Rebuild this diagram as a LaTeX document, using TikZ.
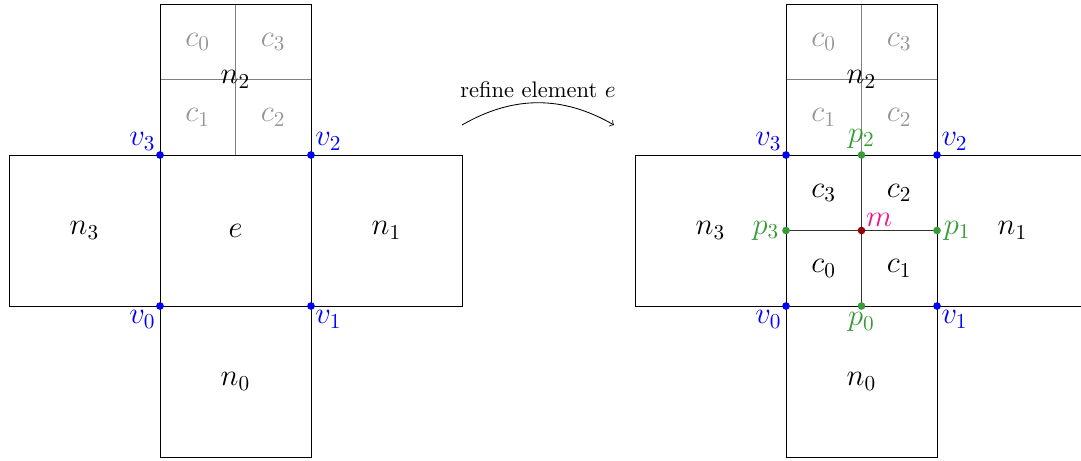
\documentclass[tikz,border=0pt]{standalone}
\usepackage{xcolor}
\definecolor{vblue}{RGB}{0,0,255}
\definecolor{pgreen}{RGB}{55,155,55}
\definecolor{mred}{RGB}{150,0,0}
\definecolor{mpink}{RGB}{240,20,140}
\definecolor{cgray}{RGB}{150,150,150}
\begin{document}
\begin{tikzpicture}[x=0.471pt,y=-0.471pt,
  cell/.style={draw=black,line width=0.4pt},
  sub/.style={draw=black!80,line width=0.4pt},
  ghost/.style={draw=black!50,line width=0.4pt},
  lab/.style={font=\Large,inner sep=1pt},
  glab/.style={font=\Large,text=cgray,inner sep=1pt},
  vdot/.style={circle,fill=vblue,inner sep=0pt,minimum size=3.6pt},
  pdot/.style={circle,fill=pgreen,inner sep=0pt,minimum size=3.6pt},
  mdot/.style={circle,fill=mred,inner sep=0pt,minimum size=3.6pt},
  vlab/.style={font=\Large,text=vblue,inner sep=0.5pt},
  plab/.style={font=\Large,text=pgreen,inner sep=1pt}]
\path[use as bounding box,clip] (0,0) rectangle (1081,460);
% ---------- left figure ----------
\begin{scope}[shift={(160,155)}]
  \draw[ghost] (75.5,-151) -- (75.5,0) (0,-75.5) -- (151,-75.5);
  \draw[cell] (0,-151) rectangle (151,0);
  \draw[cell] (-151,0) rectangle (0,151);
  \draw[cell] (0,0) rectangle (151,151);
  \draw[cell] (151,0) rectangle (302,151);
  \draw[cell] (0,151) rectangle (151,302);
  \node[glab] (Lc0) at (37.75,-113.25) {$c_0$};
  \node[glab] (Lc3) at (113.25,-113.25) {$c_3$};
  \node[glab] (Lc1) at (37.75,-37.75) {$c_1$};
  \node[glab] (Lc2) at (113.25,-37.75) {$c_2$};
  \node[lab] (Ln2) at (75.5,-75.5) {$n_2$};
  \node[lab] (Ln3) at (-75.5,75.5) {$n_3$};
  \node[lab] (Le) at (75.5,75.5) {$e$};
  \node[lab] (Ln1) at (226.5,75.5) {$n_1$};
  \node[lab] (Ln0) at (75.5,226.5) {$n_0$};
  \node[vdot] (Lv3) at (0,0) {};
  \node[vdot] (Lv2) at (151,0) {};
  \node[vdot] (Lv0) at (0,151) {};
  \node[vdot] (Lv1) at (151,151) {};
  \node[vlab,anchor=south east] at (Lv3.north west) {$v_3$};
  \node[vlab,anchor=south west] at (Lv2.north east) {$v_2$};
  \node[vlab,anchor=north east] at (Lv0.south west) {$v_0$};
  \node[vlab,anchor=north west] at (Lv1.south east) {$v_1$};
\end{scope}
% ---------- arrow ----------
\coordinate (A0) at (462,125);
\coordinate (A1) at (614,125);
\draw[->,line width=0.4pt] (A0) to[bend left=30] node[above=-1pt,font=\fontsize{10.6}{12}\selectfont] {refine element $e$} (A1);
% ---------- right figure ----------
\begin{scope}[shift={(786,155)}]
  \draw[ghost] (75.5,-151) -- (75.5,0) (0,-75.5) -- (151,-75.5);
  \draw[cell] (0,-151) rectangle (151,0);
  \draw[cell] (-151,0) rectangle (0,151);
  \draw[cell] (0,0) rectangle (151,151);
  \draw[cell] (151,0) rectangle (302,151);
  \draw[cell] (0,151) rectangle (151,302);
  \draw[sub] (75.5,0) -- (75.5,151) (0,75.5) -- (151,75.5);
  \node[glab] (Rg0) at (37.75,-113.25) {$c_0$};
  \node[glab] (Rg3) at (113.25,-113.25) {$c_3$};
  \node[glab] (Rg1) at (37.75,-37.75) {$c_1$};
  \node[glab] (Rg2) at (113.25,-37.75) {$c_2$};
  \node[lab] (Rn2) at (75.5,-75.5) {$n_2$};
  \node[lab] (Rn3) at (-75.5,75.5) {$n_3$};
  \node[lab] (Rn1) at (226.5,75.5) {$n_1$};
  \node[lab] (Rn0) at (75.5,226.5) {$n_0$};
  \node[lab] (Rc3) at (37.75,37.75) {$c_3$};
  \node[lab] (Rc2) at (113.25,37.75) {$c_2$};
  \node[lab] (Rc0) at (37.75,113.25) {$c_0$};
  \node[lab] (Rc1) at (113.25,113.25) {$c_1$};
  \node[vdot] (Rv3) at (0,0) {};
  \node[vdot] (Rv2) at (151,0) {};
  \node[vdot] (Rv0) at (0,151) {};
  \node[vdot] (Rv1) at (151,151) {};
  \node[pdot] (Rp2) at (75.5,0) {};
  \node[pdot] (Rp0) at (75.5,151) {};
  \node[pdot] (Rp3) at (0,75.5) {};
  \node[pdot] (Rp1) at (151,75.5) {};
  \node[mdot] (Rm) at (75.5,75.5) {};
  \node[vlab,anchor=south east] at (Rv3.north west) {$v_3$};
  \node[vlab,anchor=south west] at (Rv2.north east) {$v_2$};
  \node[vlab,anchor=north east] at (Rv0.south west) {$v_0$};
  \node[vlab,anchor=north west] at (Rv1.south east) {$v_1$};
  \node[plab,anchor=south] at (Rp2.north) {$p_2$};
  \node[plab,anchor=north] at (Rp0.south) {$p_0$};
  \node[plab,anchor=east] at (Rp3.west) {$p_3$};
  \node[plab,anchor=west] at (Rp1.east) {$p_1$};
  \node[font=\Large,text=mpink,inner sep=0.5pt,anchor=south west] at (Rm.north east) {$m$};
\end{scope}
\end{tikzpicture}
\end{document}
